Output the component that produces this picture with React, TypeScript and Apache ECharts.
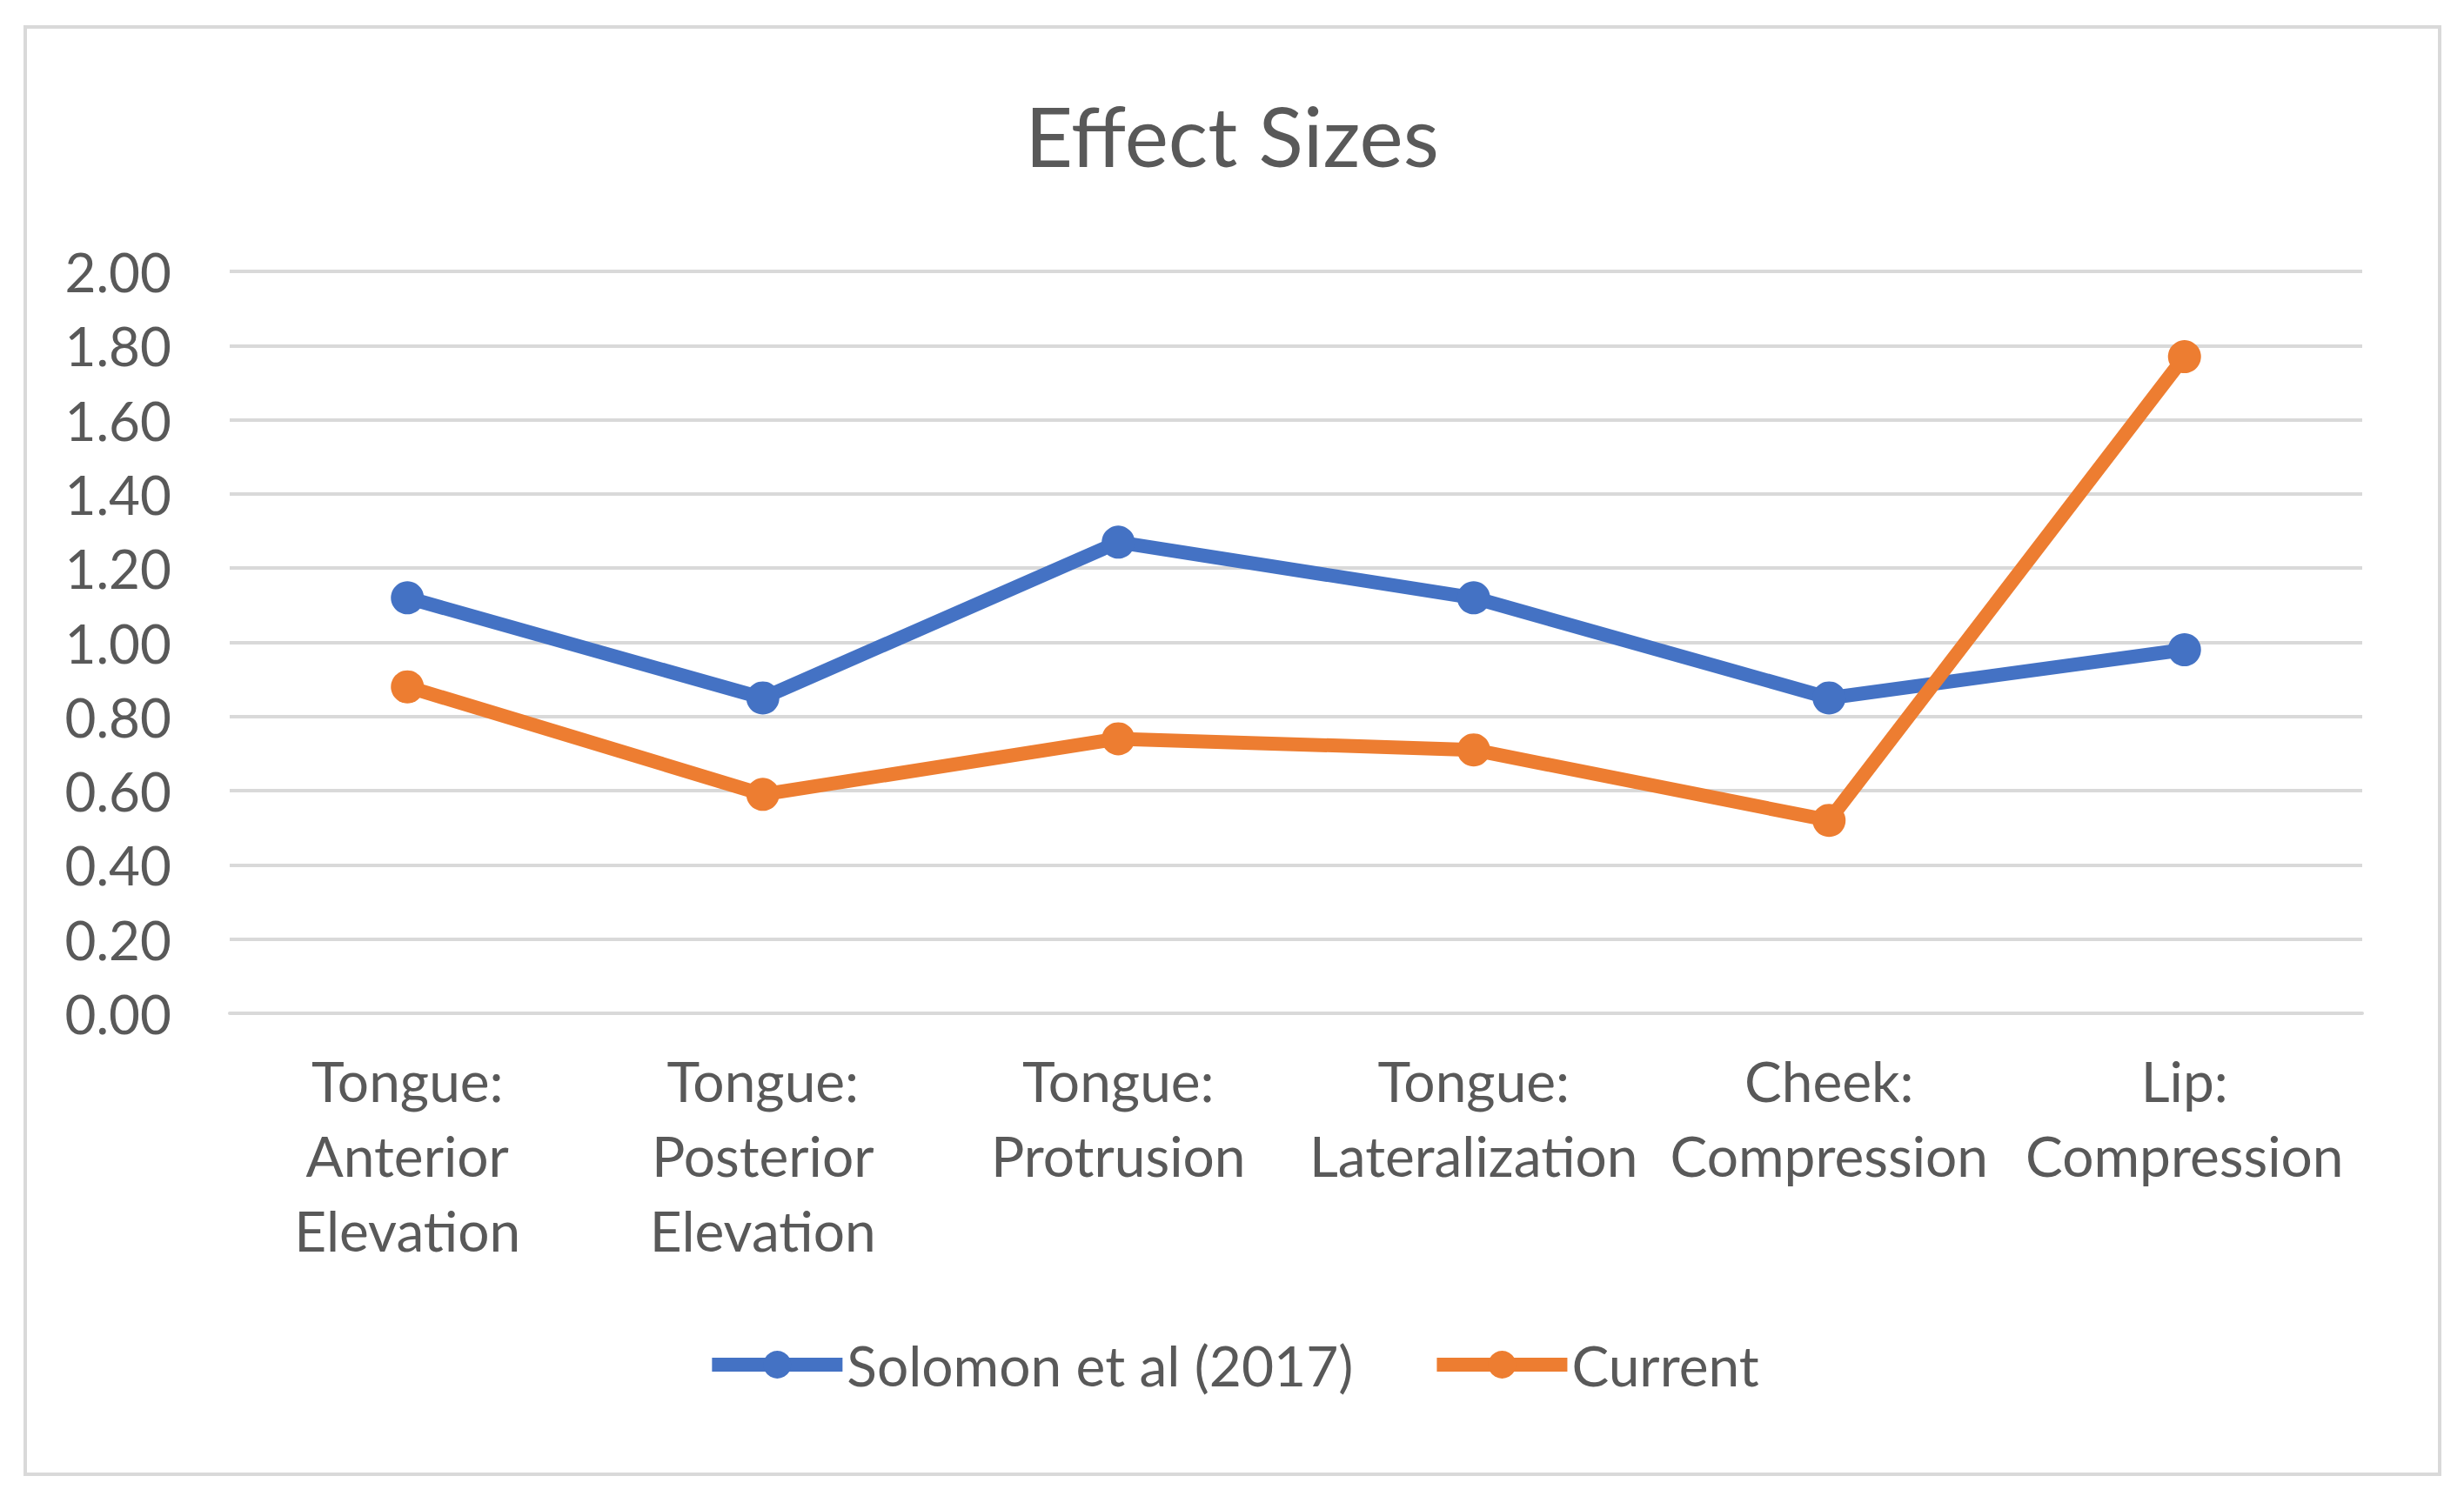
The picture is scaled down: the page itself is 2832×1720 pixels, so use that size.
import React, { useEffect, useRef } from "react";
import * as echarts from "echarts";

const categories = [
  "Tongue:\nAnterior\nElevation",
  "Tongue:\nPosterior\nElevation",
  "Tongue:\nProtrusion",
  "Tongue:\nLateralization",
  "Cheek:\nCompression",
  "Lip:\nCompression",
];
const solomonValues = [1.12, 0.85, 1.27, 1.12, 0.85, 0.98];
const currentValues = [0.88, 0.59, 0.74, 0.71, 0.52, 1.77];
const seriesNames = ["Solomon et al (2017)", "Current"];
const titleText = "Effect Sizes";

const FONT = "Lato, 'Liberation Sans', sans-serif";
const TEXT = "#595959";
const GRID = "#d9d9d9";

export default function App() {
  const ref = useRef<HTMLDivElement>(null);
  useEffect(() => {
    if (!ref.current) return;
    const chart = echarts.init(ref.current, undefined, { renderer: "svg" });
    chart.setOption({
      animation: false,
      backgroundColor: "#ffffff",
      textStyle: { fontFamily: FONT },
      title: {
        text: titleText,
        left: "center",
        top: 102,
        textStyle: { fontFamily: FONT, fontSize: 95, fontWeight: "normal", color: TEXT },
      },
      graphic: [
        {
          type: "rect",
          shape: { x: 29, y: 31, width: 2775, height: 1664 },
          style: { fill: "none", stroke: GRID, lineWidth: 4 },
          silent: true,
        },
      ],
      grid: { left: 264, right: 117, top: 312, bottom: 555, containLabel: false },
      legend: {
        bottom: 1720 - 1568 - 38,
        left: "center",
        itemWidth: 150,
        itemHeight: 40,
        itemGap: 88,
        lineStyle: { width: 16 },
        textStyle: { fontFamily: FONT, fontSize: 64, color: TEXT },
        data: seriesNames,
      },
      xAxis: {
        type: "category",
        data: categories,
        boundaryGap: true,
        axisLine: { show: true, lineStyle: { color: GRID, width: 4 } },
        axisTick: { show: false },
        axisLabel: {
          interval: 0,
          margin: 34,
          fontFamily: FONT,
          fontSize: 64,
          lineHeight: 86,
          color: TEXT,
          align: "center",
        },
      },
      yAxis: {
        type: "value",
        min: 0,
        max: 2,
        interval: 0.2,
        axisLine: { show: false },
        axisTick: { show: false },
        splitLine: { show: true, lineStyle: { color: GRID, width: 4 } },
        axisLabel: {
          margin: 67,
          fontFamily: FONT,
          fontSize: 62,
          color: TEXT,
          formatter: (v: number) => v.toFixed(2),
        },
      },
      series: [
        {
          name: seriesNames[0],
          type: "line",
          data: solomonValues,
          symbol: "circle",
          symbolSize: 38,
          itemStyle: { color: "#4472C4" },
          lineStyle: { color: "#4472C4", width: 16 },
          z: 3,
        },
        {
          name: seriesNames[1],
          type: "line",
          data: currentValues,
          symbol: "circle",
          symbolSize: 38,
          itemStyle: { color: "#ED7D31" },
          lineStyle: { color: "#ED7D31", width: 16 },
          z: 4,
        },
      ],
    });
    return () => chart.dispose();
  }, []);
  return (
    <div
      ref={ref}
      style={{ position: "absolute", left: 0, top: 0, width: 2832, height: 1720 }}
    />
  );
}
